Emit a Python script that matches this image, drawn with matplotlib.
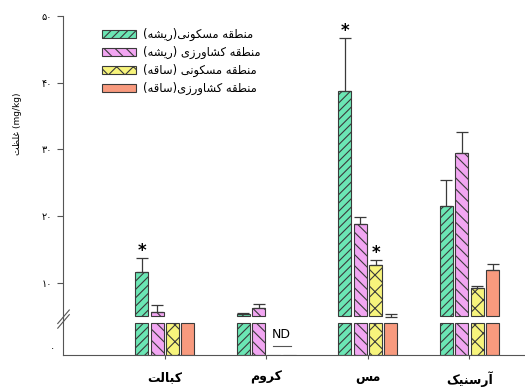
import numpy as np
import matplotlib
matplotlib.use('Agg')
from matplotlib import pyplot as plt
from matplotlib.lines import Line2D

# Persian letters -> (isolated, final, initial, medial) presentation forms
FORMS = {
    'ا': ('\uFE8D', '\uFE8E', None, None),
    'آ': ('\uFE81', '\uFE82', None, None),
    'ب': ('\uFE8F', '\uFE90', '\uFE91', '\uFE92'),
    'ت': ('\uFE95', '\uFE96', '\uFE97', '\uFE98'),
    'ر': ('\uFEAD', '\uFEAE', None, None),
    'ز': ('\uFEAF', '\uFEB0', None, None),
    'س': ('\uFEB1', '\uFEB2', '\uFEB3', '\uFEB4'),
    'ش': ('\uFEB5', '\uFEB6', '\uFEB7', '\uFEB8'),
    'ط': ('\uFEC1', '\uFEC2', '\uFEC3', '\uFEC4'),
    'ظ': ('\uFEC5', '\uFEC6', '\uFEC7', '\uFEC8'),
    'غ': ('\uFECD', '\uFECE', '\uFECF', '\uFED0'),
    'ق': ('\uFED5', '\uFED6', '\uFED7', '\uFED8'),
    'ل': ('\uFEDD', '\uFEDE', '\uFEDF', '\uFEE0'),
    'م': ('\uFEE1', '\uFEE2', '\uFEE3', '\uFEE4'),
    'ن': ('\uFEE5', '\uFEE6', '\uFEE7', '\uFEE8'),
    'ه': ('\uFEE9', '\uFEEA', '\uFEEB', '\uFEEC'),
    'و': ('\uFEED', '\uFEEE', None, None),
    'ک': ('\uFB8E', '\uFB8F', '\uFB90', '\uFB91'),
    'ی': ('\uFBFC', '\uFBFD', '\uFBFE', '\uFBFF'),
}


def fa(s):
    # join letters and reverse to visual order (matplotlib has no bidi)
    out = []
    for i, c in enumerate(s):
        if c not in FORMS:
            out.append(c)
            continue
        iso, fin, ini, med = FORMS[c]
        prev = s[i - 1] if i > 0 else ''
        nxt = s[i + 1] if i + 1 < len(s) else ''
        jp = prev in FORMS and FORMS[prev][2] is not None
        jn = ini is not None and nxt in FORMS
        if jp and jn:
            out.append(med)
        elif jp:
            out.append(fin)
        elif jn:
            out.append(ini)
        else:
            out.append(iso)
    vis = ''.join(out)[::-1]
    return vis.translate(str.maketrans('()', ')('))


metals = ['کبالت', 'کروم', 'مس', 'آرسنیک']
series = ['منطقه مسکونی(ریشه)', 'منطقه کشاورزی (ریشه)',
          'منطقه مسکونی (ساقه)', 'منطقه کشاورزی(ساقه)']

res_root = [11.65, 5.25, 38.8, 21.55]
agr_root = [5.55, 6.25, 18.75, 29.45]
res_stem = [4.6, 0.0, 12.65, 9.2]
agr_stem = [4.7, 0.0, 4.8, 11.9]

res_root_err = [2.1, 0.25, 7.9, 3.85]
agr_root_err = [1.1, 0.55, 1.1, 3.15]
res_stem_err = [0.0, 0.0, 0.8, 0.3]
agr_stem_err = [0.0, 0.0, 0.5, 0.95]

values = [res_root, agr_root, res_stem, agr_stem]
errors = [res_root_err, agr_root_err, res_stem_err, agr_stem_err]
stars = [(0, 0), (2, 0), (2, 2)]  # (metal, series)
nd = [(1, 2), (1, 3)]

colors = ['#6be6b4', '#f2a6f2', '#f7f47c', '#f89a7e']
hatches = ['////', '\\\\\\', 'xx', '']

plt.rcParams['hatch.linewidth'] = 0.8
fig = plt.figure(figsize=(5.25, 3.87), dpi=100)
ax_top = fig.add_axes([0.12, 0.1783, 0.88, 0.7804])
ax_bot = fig.add_axes([0.12, 0.0814, 0.88, 0.0896])

top_lo, top_hi = 4.7, 50
bar_lo = 5.0
bot_hi, bot_cap = 4.7, 4.4

x = np.arange(1, len(metals) + 1)
offsets = [-0.226, -0.074, 0.078, 0.23]
width = 0.128
edge = '#3a3a3a'

handles = []
for k in range(4):
    v = np.array(values[k])
    e = np.array(errors[k])
    xs = x + offsets[k]
    up = v > bar_lo
    b = ax_top.bar(xs[up], v[up] - bar_lo, width, bottom=bar_lo, color=colors[k],
                   edgecolor=edge, linewidth=0.8, hatch=hatches[k], label=fa(series[k]))
    handles.append(b)
    ax_bot.bar(xs, np.minimum(v, bot_cap), width, color=colors[k],
               edgecolor=edge, linewidth=0.8, hatch=hatches[k])
    has = e > 0
    ax_top.errorbar(xs[has], v[has], yerr=[np.zeros(has.sum()), e[has]], fmt='none',
                    ecolor=edge, elinewidth=0.9, capsize=4, capthick=0.9)

for m, s in stars:
    ax_top.text(x[m] + offsets[s], values[s][m] + errors[s][m] - 0.3, '*',
                ha='center', va='bottom', fontsize=12, fontweight='bold')

nd_x = np.mean([x[m] + offsets[s] for m, s in nd])
ax_bot.text(nd_x, 2.0, 'ND', ha='center', va='bottom', fontsize=9)
ax_bot.plot([nd_x - 0.09, nd_x + 0.09], [1.3, 1.3], color='#555555', lw=0.8)

ax_top.set_ylim(top_lo, top_hi)
ax_bot.set_ylim(0, bot_hi)
for a in (ax_top, ax_bot):
    a.set_xlim(0, 4.55)
    a.spines['top'].set_visible(False)
    a.spines['right'].set_visible(False)
    a.spines['left'].set_color('#555555')
    a.spines['bottom'].set_color('#555555')
    a.tick_params(colors='#555555', labelcolor='black')
ax_top.spines['bottom'].set_visible(False)
ax_top.set_xticks([])

yt = [10, 20, 30, 40, 50]
ax_top.set_yticks(yt)
ax_top.set_yticklabels(['۱۰', '۲۰', '۳۰', '۴۰', '۵۰'], fontsize=7)
ax_top.tick_params(axis='y', length=4, width=0.8, pad=4)

ax_bot.set_yticks([1.2])
ax_bot.set_yticklabels(['۰'], fontsize=7)
ax_bot.tick_params(axis='y', length=0, pad=6)

ax_bot.set_xticks(x)
ax_bot.set_xticklabels([fa(m) for m in metals], fontsize=9, fontweight='bold')
ax_bot.tick_params(axis='x', length=3, width=0.8, pad=8)

# spine across the gap and break marks
fig.add_artist(Line2D([0.12, 0.12], [0.17, 0.18], color='#555555', lw=0.8))
for dy in (0.0, 0.012):
    fig.add_artist(Line2D([0.110, 0.132], [0.152 + dy, 0.187 + dy], color='#555555', lw=0.8))

fig.text(0.034, 0.68, fa('غلظت') + ' (mg/kg)', rotation=90, ha='center', va='center',
         fontsize=6.5)

ax_top.legend(handles=handles, loc='upper left', bbox_to_anchor=(0.194, 0.928),
              bbox_transform=fig.transFigure, frameon=False, fontsize=8.3,
              handlelength=3.0, handleheight=0.65, handletextpad=0.6,
              labelspacing=0.42, borderpad=0, borderaxespad=0)

fig.savefig('out.png', dpi=100)
